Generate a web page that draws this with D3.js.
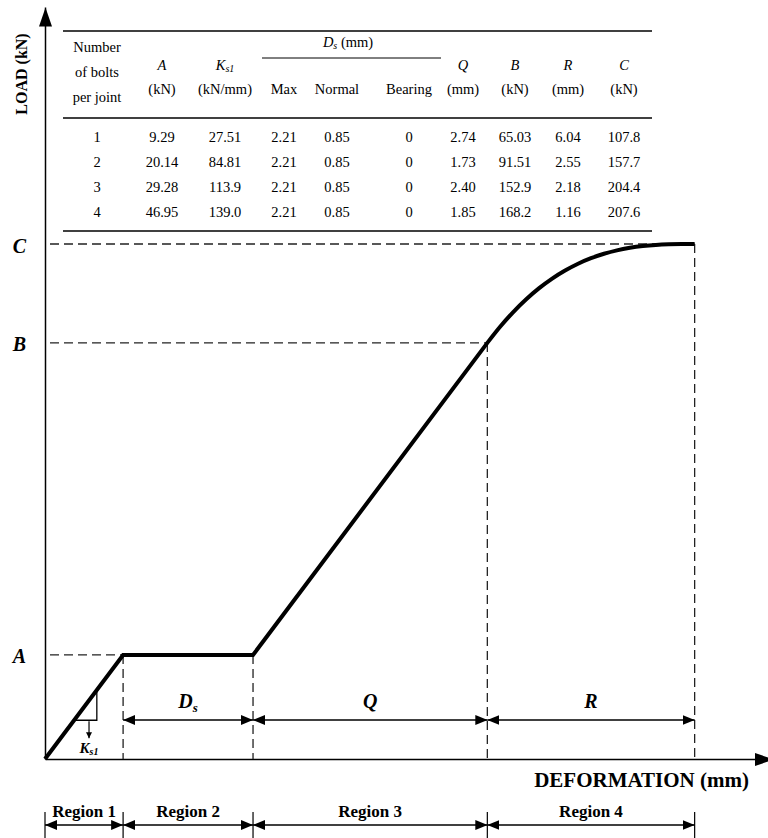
<!DOCTYPE html>
<html><head><meta charset="utf-8">
<script src="https://cdn.jsdelivr.net/npm/d3@7"></script>
<style>
body{margin:0;background:#fff}
svg{display:block}
text{font-family:"Liberation Serif","Times New Roman",serif;fill:#000}
</style>
</head><body>
<svg id="c" width="768" height="838"></svg>
<script>
// ---------------- data ----------------
const pathDef   = [0, 11.0, 29.3, 62.3];          // linear part: origin -> A -> end of slip -> B
const pathLoad  = [0, 20.2, 20.2, 80.8];
// region 4 curve B -> C
const curveDef  = [62.3, 64.13, 65.95, 67.78, 69.6, 71.43, 73.25, 75.08, 76.9, 78.73, 80.55, 82.38, 84.2, 86.03, 87.85, 89.68, 91.5];
const curveLoad = [80.8, 83.97, 86.79, 89.27, 91.42, 93.28, 94.85, 96.17, 97.24, 98.10, 98.77, 99.26, 99.60, 99.82, 99.94, 99.99, 100];
const levelNames = ["A", "B", "C"];
const levelLoad  = [20.2, 80.8, 100];
const levelDef   = [11.0, 62.3, 91.5];
const breakDef   = [0, 11.0, 29.3, 62.3, 91.5];
const breakLoad  = [0, 20.2, 20.2, 80.8, 100];
const dimLabels  = [["D","s"], ["Q",""], ["R",""]];
const regionLabels = ["Region 1", "Region 2", "Region 3", "Region 4"];
const slopeTriDef = [4.1, 7.3];
const slopeArrowDef = 6.2;

const tableBolts     = ["1", "2", "3", "4"];
const tableA         = ["9.29", "20.14", "29.28", "46.95"];
const tableKs1       = ["27.51", "84.81", "113.9", "139.0"];
const tableDsMax     = ["2.21", "2.21", "2.21", "2.21"];
const tableDsNormal  = ["0.85", "0.85", "0.85", "0.85"];
const tableDsBearing = ["0", "0", "0", "0"];
const tableQ         = ["2.74", "1.73", "2.40", "1.85"];
const tableB         = ["65.03", "91.51", "152.9", "168.2"];
const tableR         = ["6.04", "2.55", "2.18", "1.16"];
const tableC         = ["107.8", "157.7", "204.4", "207.6"];

// ---------------- layout ----------------
const svg = d3.select("#c");
const x = d3.scaleLinear().domain([0, 100]).range([45, 755]);
const y = d3.scaleLinear().domain([0, 100]).range([759, 244]);
const xEnd = 102.6, yEnd = 146;
const serif = '"Liberation Serif","Times New Roman",serif';

const defs = svg.append("defs");
function marker(id, len, wid) {
  defs.append("marker").attr("id", id)
    .attr("viewBox", `0 0 ${len} ${wid}`).attr("refX", len).attr("refY", wid / 2)
    .attr("markerWidth", len).attr("markerHeight", wid)
    .attr("markerUnits", "userSpaceOnUse").attr("orient", "auto-start-reverse")
    .append("path").attr("d", `M0,0L${len},${wid / 2}L0,${wid}Z`).attr("fill", "#000");
}
marker("ah", 12, 10);
marker("axh", 19, 13);
marker("sh", 6, 6);

// axes
const xa = d3.scaleLinear().domain([0, xEnd]).range([x(0), x(xEnd)]);
const gx = svg.append("g").attr("transform", `translate(0,${y(0)})`)
  .call(d3.axisBottom(xa).tickValues([]).tickSizeOuter(0));
gx.select(".domain").attr("stroke-width", 1.5).attr("marker-end", "url(#axh)");

const ya = d3.scaleLinear().domain([0, yEnd]).range([y(0), y(yEnd)]);
const gy = svg.append("g").attr("transform", `translate(${x(0)},0)`)
  .call(d3.axisLeft(ya).tickValues(levelLoad).tickSize(0).tickPadding(19)
    .tickFormat((d, i) => levelNames[i]));
gy.select(".domain").attr("stroke-width", 1.5).attr("marker-end", "url(#axh)");
gy.attr("font-family", serif).attr("font-size", 20);
gy.selectAll(".tick text").attr("font-weight", "bold").attr("font-style", "italic").attr("dy", "0.4em");

// dashed guides
const dashed = svg.append("g").attr("stroke", "#222").attr("stroke-width", 1.3)
  .attr("stroke-dasharray", "9,5").attr("fill", "none");
levelLoad.forEach((L, i) => {
  dashed.append("line").attr("x1", x(0)).attr("x2", x(levelDef[i]))
    .attr("y1", y(L)).attr("y2", y(L)).attr("stroke-dashoffset", 9);
});
breakDef.slice(1).forEach((d, i) => {
  dashed.append("line").attr("x1", x(d)).attr("x2", x(d))
    .attr("y1", y(breakLoad[i + 1])).attr("y2", y(0));
});

// main load-deformation curve
const lin = d3.line().x(d => x(d[0])).y(d => y(d[1]));
const curve = d3.line().x(d => x(d[0])).y(d => y(d[1])).curve(d3.curveMonotoneX);
const dPath = lin(d3.zip(pathDef, pathLoad)) + curve(d3.zip(curveDef, curveLoad)).replace(/^M/, "L");
svg.append("path").attr("d", dPath).attr("fill", "none").attr("stroke", "#000")
  .attr("stroke-width", 4).attr("stroke-linejoin", "miter");

// slope triangle Ks1
const L1 = d3.scaleLinear().domain(pathDef.slice(0, 2)).range(pathLoad.slice(0, 2));
const t0 = slopeTriDef[0], t1 = slopeTriDef[1];
svg.append("path")
  .attr("d", `M${x(t0)},${y(L1(t0))}H${x(t1)}V${y(L1(t1))}`)
  .attr("fill", "none").attr("stroke", "#000").attr("stroke-width", 1.3);
svg.append("line").attr("x1", x(slopeArrowDef)).attr("x2", x(slopeArrowDef))
  .attr("y1", y(L1(t0)) + 1).attr("y2", y(L1(t0)) + 18)
  .attr("stroke", "#000").attr("stroke-width", 1.2).attr("marker-end", "url(#sh)");
const kt = svg.append("text").attr("x", x(slopeArrowDef)).attr("y", 753).attr("text-anchor", "middle")
  .attr("font-weight", "bold").attr("font-style", "italic").attr("font-size", 15);
kt.append("tspan").text("K");
kt.append("tspan").attr("font-size", 10).attr("dy", 2).text("s1");

// dimension arrows Ds, Q, R
dimLabels.forEach((lab, i) => {
  const a = breakDef[i + 1], b = breakDef[i + 2];
  svg.append("line").attr("x1", x(a)).attr("x2", x(b)).attr("y1", 720).attr("y2", 720)
    .attr("stroke", "#000").attr("stroke-width", 1.3)
    .attr("marker-start", "url(#ah)").attr("marker-end", "url(#ah)");
  const t = svg.append("text").attr("x", (x(a) + x(b)) / 2).attr("y", 708).attr("text-anchor", "middle")
    .attr("font-weight", "bold").attr("font-style", "italic").attr("font-size", 20);
  t.append("tspan").text(lab[0]);
  if (lab[1]) t.append("tspan").attr("font-size", 13).attr("dy", 4).text(lab[1]);
});

// axis titles
svg.append("text").attr("transform", "translate(27,74) rotate(-90)").attr("text-anchor", "middle")
  .attr("font-weight", "bold").attr("font-size", 16).text("LOAD (kN)");
svg.append("text").attr("x", 749).attr("y", 787).attr("text-anchor", "end")
  .attr("font-weight", "bold").attr("font-size", 21).text("DEFORMATION (mm)");

// regions
breakDef.forEach(d => {
  svg.append("line").attr("x1", x(d)).attr("x2", x(d)).attr("y1", 812).attr("y2", 838)
    .attr("stroke", "#000").attr("stroke-width", 1.2);
});
regionLabels.forEach((lab, i) => {
  const a = breakDef[i], b = breakDef[i + 1];
  svg.append("line").attr("x1", x(a)).attr("x2", x(b)).attr("y1", 825).attr("y2", 825)
    .attr("stroke", "#000").attr("stroke-width", 1.3)
    .attr("marker-start", "url(#ah)").attr("marker-end", "url(#ah)");
  svg.append("text").attr("x", (x(a) + x(b)) / 2).attr("y", 817).attr("text-anchor", "middle")
    .attr("font-weight", "bold").attr("font-size", 17).text(lab);
});

// ---------------- table ----------------
const tb = svg.append("g").attr("font-size", 14.5);
const colX = [97, 162, 225, 284, 337, 409, 463, 515, 568, 624];
const rowY = [142, 167, 192, 217];
const tLeft = 63, tRight = 652;
[31, 118, 231].forEach(yy => {
  tb.append("line").attr("x1", tLeft).attr("x2", tRight).attr("y1", yy).attr("y2", yy)
    .attr("stroke", "#000").attr("stroke-width", 1.3);
});
tb.append("line").attr("x1", 262).attr("x2", 441).attr("y1", 58).attr("y2", 58)
  .attr("stroke", "#000").attr("stroke-width", 1);

function ttext(xx, yy, str, italic) {
  return tb.append("text").attr("x", xx).attr("y", yy).attr("text-anchor", "middle")
    .attr("font-style", italic ? "italic" : "normal").text(str);
}
ttext(colX[0], 52, "Number");
ttext(colX[0], 77, "of bolts");
ttext(colX[0], 102, "per joint");
ttext(colX[1], 70, "A", true);
ttext(colX[1], 94, "(kN)");
const kh = tb.append("text").attr("x", colX[2]).attr("y", 70).attr("text-anchor", "middle").attr("font-style", "italic");
kh.append("tspan").text("K");
kh.append("tspan").attr("font-size", 10).attr("dy", 2).text("s1");
ttext(colX[2], 94, "(kN/mm)");
const dh = tb.append("text").attr("x", 348).attr("y", 47).attr("text-anchor", "middle");
dh.append("tspan").attr("font-style", "italic").text("D");
dh.append("tspan").attr("font-style", "italic").attr("font-size", 10).attr("dy", 2).text("s");
dh.append("tspan").attr("dy", -2).text(" (mm)");
ttext(colX[3], 94, "Max");
ttext(colX[4], 94, "Normal");
ttext(colX[5], 94, "Bearing");
ttext(colX[6], 70, "Q", true); ttext(colX[6], 94, "(mm)");
ttext(colX[7], 70, "B", true); ttext(colX[7], 94, "(kN)");
ttext(colX[8], 70, "R", true); ttext(colX[8], 94, "(mm)");
ttext(colX[9], 70, "C", true); ttext(colX[9], 94, "(kN)");

const cols = [tableBolts, tableA, tableKs1, tableDsMax, tableDsNormal, tableDsBearing, tableQ, tableB, tableR, tableC];
cols.forEach((col, ci) => col.forEach((v, ri) => ttext(colX[ci], rowY[ri], v)));
</script>
</body></html>
